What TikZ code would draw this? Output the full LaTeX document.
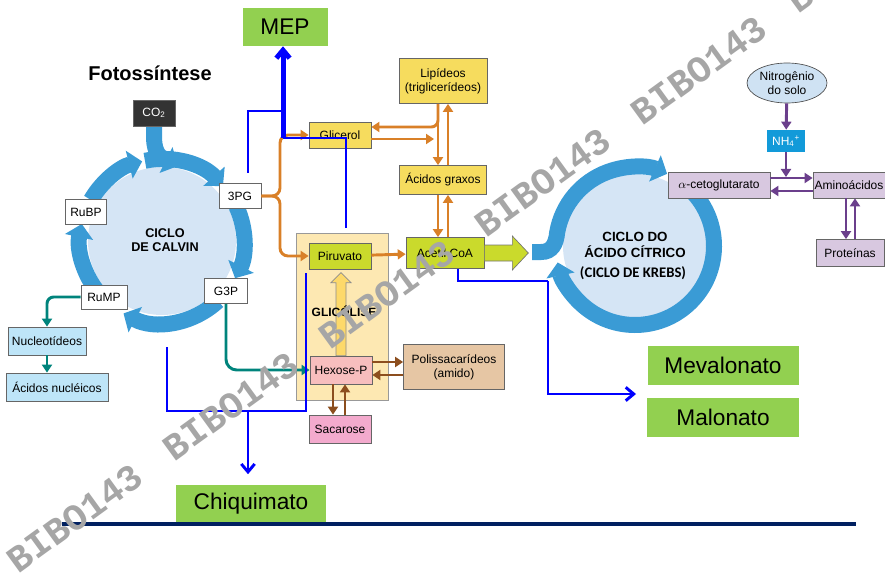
\documentclass[tikz,border=0pt]{standalone}
\usepackage{fontspec}
\setmainfont{Liberation Sans}
\newfontfamily\krebsfont{Carlito}
\newfontfamily\markfont{Liberation Mono}
\usetikzlibrary{arrows.meta,shapes.geometric,calc}

\definecolor{anel}{RGB}{58,155,213}
\definecolor{fundo}{RGB}{213,229,245}
\definecolor{laranja}{RGB}{217,128,40}
\definecolor{marrom}{RGB}{140,78,30}
\definecolor{verdeazul}{RGB}{0,132,124}
\definecolor{roxo}{RGB}{107,63,140}
\definecolor{amarelo}{RGB}{246,220,94}
\definecolor{verdelima}{RGB}{202,218,44}
\definecolor{folha}{RGB}{146,208,80}
\definecolor{creme}{RGB}{253,232,178}
\definecolor{ouro}{RGB}{253,217,106}
\definecolor{rosa}{RGB}{247,190,190}
\definecolor{rosaforte}{RGB}{243,170,205}
\definecolor{bege}{RGB}{230,198,164}
\definecolor{lilas}{RGB}{216,200,224}
\definecolor{celeste}{RGB}{190,229,248}
\definecolor{ceu}{RGB}{207,226,243}
\definecolor{nhazul}{RGB}{18,154,217}
\definecolor{marinho}{RGB}{0,32,96}

\begin{document}
\begin{tikzpicture}[x=0.75pt, y=-0.75pt,
    caixa/.style={draw=black!60, line width=0.5pt, inner sep=1pt, align=center,
      font=\fontsize{9}{10.5}\selectfont},
    verde/.style={fill=folha, inner sep=0pt, font=\fontsize{17}{18}\selectfont},
    anelseta/.style={draw=anel, line width=12pt, -{Triangle[width=21pt,length=10pt]}},
    lar/.style={draw=laranja, line width=2.2pt, -{Triangle[width=7.5pt,length=6pt]}},
    mar/.style={draw=marrom, line width=2.2pt, -{Triangle[width=7.5pt,length=6pt]}},
    tea/.style={draw=verdeazul, line width=2.2pt, -{Triangle[width=7.5pt,length=6pt]}},
    rox/.style={draw=roxo, line width=2.2pt, -{Triangle[width=7.5pt,length=6pt]}},
    azul/.style={draw=blue, line width=2.2pt},
    azulseta/.style={azul, -{Straight Barb[width=10pt,length=6pt]}},
    marca/.style={text=black!35, font=\markfont\bfseries\fontsize{28}{28}\selectfont, rotate=36}
]
\path[use as bounding box, clip] (0,0) rectangle (885,574);

% Ciclo de Calvin
\fill[fundo] (162,241) circle[radius=74];
\draw[anelseta] (162,241) ++(-102:82) arc[start angle=-102, end angle=-42, radius=82];
\draw[anelseta] (162,241) ++(-25:82) arc[start angle=-25, end angle=27, radius=82];
\draw[anelseta] (162,241) ++(47:82) arc[start angle=47, end angle=118, radius=82];
\draw[anelseta] (162,241) ++(140:82) arc[start angle=140, end angle=192, radius=82];
\draw[anelseta] (162,241) ++(-150:82) arc[start angle=-150, end angle=-104, radius=82];
\draw[anelseta] (154,126) -- (154,136) .. controls (154,156) and (162,158) .. (178,166);

% Ciclo de Krebs
\fill[fundo] (635,246) circle[radius=72];
\draw[anelseta] (532,252) -- (541,252) .. controls (552,252) and (556,244) .. (557.2,232.3)
  arc[start angle=-170, end angle=-66, radius=79];
\draw[anelseta] (635,246) ++(-50:79) arc[start angle=-50, end angle=168, radius=79];

% Caixas
\node[caixa, fill=black!80, text=white, minimum width=31.5pt, minimum height=19.5pt] (co2) at (154,113) {CO\textsubscript{2}};
\node[caixa, fill=white, minimum width=31.5pt, minimum height=18.75pt] (pg3) at (240,196) {3PG};
\node[caixa, fill=white, minimum width=32.25pt, minimum height=18.75pt] (g3p) at (226,291) {G3P};
\node[caixa, fill=white, minimum width=30.75pt, minimum height=18.75pt] (rubp) at (86,212) {RuBP};
\node[caixa, fill=white, minimum width=34.5pt, minimum height=18pt] (rump) at (104,297) {RuMP};
\node[caixa, fill=celeste, minimum width=58.5pt, minimum height=21pt] (nucleo) at (47,341) {Nucleotídeos};
\node[caixa, fill=celeste, minimum width=76.5pt, minimum height=21pt] (acnuc) at (57,387) {Ácidos nucléicos};

\node[caixa, fill=creme, draw=black!40, minimum width=69pt, minimum height=125.25pt] (glicbox) at (342,316.5) {};
\node[caixa, fill=verdelima, minimum width=46.5pt, minimum height=19.5pt] (piruvato) at (340,256) {Piruvato};
\node[caixa, fill=rosa, minimum width=46.5pt, minimum height=21pt] (hexose) at (341,370) {Hexose-P};
\node[caixa, fill=rosaforte, minimum width=46.5pt, minimum height=21pt] (sacarose) at (340,429) {Sacarose};
\node[caixa, fill=bege, minimum width=75.75pt, minimum height=33.75pt] (polissac) at (454,367) {Polissacarídeos\\(amido)};

\node[caixa, fill=amarelo, minimum width=46.5pt, minimum height=19.5pt] (glicerol) at (340,135) {Glicerol};
\node[caixa, fill=amarelo, minimum width=66pt, minimum height=33.75pt] (lipideos) at (443,81) {Lipídeos\\(triglicerídeos)};
\node[caixa, fill=amarelo, minimum width=65.25pt, minimum height=21.75pt] (acgraxos) at (443,180) {Ácidos graxos};
\node[caixa, fill=verdelima, minimum width=58.5pt, minimum height=23.25pt] (acetil) at (445,253) {Acetil CoA};

\node[caixa, fill=lilas, minimum width=76.5pt, minimum height=19.5pt] (alfa) at (719,185) {$\alpha$-cetoglutarato};
\node[caixa, fill=lilas, minimum width=54pt, minimum height=19.5pt] (amino) at (849,185) {Aminoácidos};
\node[caixa, fill=lilas, minimum width=51pt, minimum height=20.25pt] (proteinas) at (850,253) {Proteínas};
\node[caixa, ellipse, fill=ceu, draw=black!70, inner sep=0pt, minimum width=60pt, minimum height=30pt] (nitro) at (787,83) {Nitrogênio\\do solo};
\node[caixa, fill=nhazul, draw=none, text=white, minimum width=28.5pt, minimum height=16.5pt] (nh4) at (786,141) {NH\textsubscript{4}\textsuperscript{+}};

\node[verde, minimum width=63.75pt, minimum height=28.5pt] (mep) at (285,27) {MEP};
\node[verde, minimum width=112.5pt, minimum height=29.25pt] (chiq) at (251,504) {Chiquimato};
\node[verde, minimum width=113.25pt, minimum height=29.25pt] (meval) at (723,365) {Mevalonato};
\node[verde, minimum width=114pt, minimum height=29.25pt] (malon) at (723,417) {Malonato};

% Setas largas
\draw[fill=ouro, draw=black!45, line width=0.5pt] ($(hexose.north)+(-5,0)$) -- ++(0,-73) -- ++(-5,0)
  -- ++(10,-10) -- ++(10,10) -- ++(-5,0) -- ++(0,73) -- cycle;
\draw[fill=verdelima, draw=black!55, line width=0.5pt] ($(acetil.east)+(0,-8)$) -- ++(28,0) -- ++(0,-9)
  -- ++(16,17) -- ++(-16,17) -- ++(0,-9) -- ++(-28,0) -- cycle;

% Textos
\node[font=\bfseries\fontsize{15}{16}\selectfont] (fotos) at (150,73) {Fotossíntese};
\node[font=\bfseries\fontsize{9.5}{11}\selectfont, align=center] (calvin) at (165,240) {CICLO\\DE CALVIN};
\node[font=\bfseries\fontsize{9}{10}\selectfont] (glic) at (344,311) {GLICÓLISE};
\node[font=\bfseries\fontsize{10}{12}\selectfont, align=center] (krebs) at (635,245) {CICLO DO\\ÁCIDO CÍTRICO};
\node[font=\krebsfont\bfseries\fontsize{11}{12}\selectfont] (krebsb) at (633,273) {(CICLO DE KREBS)};

% Laranja
\draw[lar, rounded corners=6pt] (pg3.east) -- (280,196) |- (glicerol.west);
\draw[lar, rounded corners=6pt] (pg3.east) -- (280,196) |- (piruvato.west);
\draw[lar] (piruvato) -- (acetil);
\draw[lar, rounded corners=5pt] ([xshift=-3.75pt]lipideos.south) |- ([yshift=6pt]glicerol.east);
\coordinate (glfim) at (434,139);
\draw[lar] ([yshift=-3pt]glicerol.east) -- (glfim);
\draw[lar] ([xshift=-3.75pt]lipideos.south) -- ([xshift=-3.75pt]lipideos.south |- acgraxos.north);
\draw[lar] ([xshift=3.75pt]acgraxos.north) -- ([xshift=3.75pt]acgraxos.north |- lipideos.south);
\draw[lar] ([xshift=-3.75pt]acgraxos.south) -- ([xshift=-3.75pt]acgraxos.south |- acetil.north);
\draw[lar] ([xshift=3.75pt]acgraxos.south |- acetil.north) -- ([xshift=3.75pt]acgraxos.south);

% Marrom
\draw[mar] ([yshift=6pt]hexose.east) -- ([yshift=6pt]hexose.east -| polissac.west);
\draw[mar] ([yshift=-3.75pt]hexose.east -| polissac.west) -- ([yshift=-3.75pt]hexose.east);
\draw[mar] ([xshift=-6pt]hexose.south) -- ([xshift=-6pt]hexose.south |- sacarose.north);
\draw[mar] ([xshift=3pt]hexose.south |- sacarose.north) -- ([xshift=3pt]hexose.south);

% Verde-azulado
\draw[tea, rounded corners=5pt] (rump.west) -| (nucleo.north);
\draw[tea] (nucleo.south) -- (nucleo.south |- acnuc.north);
\draw[tea, rounded corners=8pt] (g3p.south) |- (hexose.west);

% Roxo
\draw[rox] (nitro) -- (nh4);
\coordinate (nhfim) at (786,177);
\draw[rox] (nh4.south) -- (nhfim);
\draw[rox] ([yshift=5.25pt]alfa.east) -- ([yshift=5.25pt]alfa.east -| amino.west);
\draw[rox] ([yshift=-4.5pt]alfa.east -| amino.west) -- ([yshift=-4.5pt]alfa.east);
\draw[rox] ([xshift=-2.25pt]amino.south) -- ([xshift=-2.25pt]amino.south |- proteinas.north);
\draw[rox] ([xshift=4.5pt]amino.south |- proteinas.north) -- ([xshift=4.5pt]amino.south);

% Azul
\coordinate (bA) at (346,228);
\coordinate (bB) at (283,138);
\coordinate (bC) at (248,173);
\coordinate (bD) at (283,111);
\draw[azul] (bA) |- (bB);
\draw[azul] (bC) |- (bD);
\draw[azulseta, line width=3.75pt] (bB) -- (bB |- mep.south);
\coordinate (bE) at (167,347);
\coordinate (bF) at (306,273);
\coordinate (bG) at (306,411);
\coordinate (bH) at (248,411);
\draw[azul] (bE) |- (bG) -- (bF);
\draw[azulseta, shorten >=7.5pt] (bH) -- (bH |- chiq.north);
\coordinate (bI) at (548,281);
\coordinate (bJ) at (636,394);
\draw[azul] ([xshift=9.75pt]acetil.south) |- (bI);
\draw[azulseta] (bI) |- (bJ);

% Linha
\draw[marinho, line width=2.8pt] (62,524) -- (856,524);

% Marcas
\foreach \i in {0,...,5}
  \node[marca] at ($(75,518)+\i*(156,-112)$) {BIBO143};
\end{tikzpicture}
\end{document}
